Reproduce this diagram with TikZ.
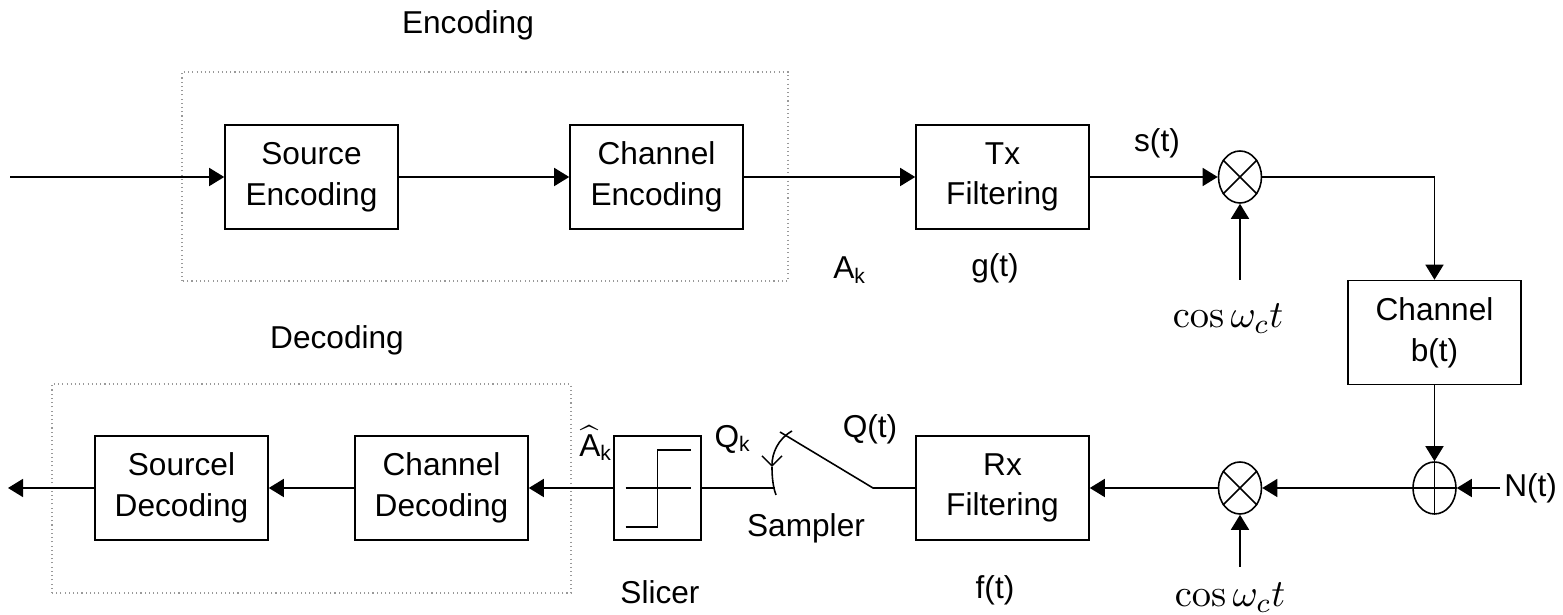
\documentclass[tikz,border=0pt]{standalone}
\usepackage[no-math]{fontspec}
\setmainfont{Liberation Sans}
\usepackage{amsmath}
\usepackage{tikz}
\usetikzlibrary{arrows.meta,shapes.geometric}

\begin{document}
\begin{tikzpicture}[x=1cm,y=1cm,line width=0.45pt,
  font=\fontsize{9pt}{11.6pt}\selectfont,
  blk/.style={draw,minimum width=1.73cm,minimum height=1.04cm,inner sep=0,align=center},
  mix/.style={draw,ellipse,minimum width=0.43cm,minimum height=0.52cm,inner sep=0},
  grp/.style={draw=gray!80,line width=0.3pt,dash pattern=on 0.3pt off 0.9pt},
  sig/.style={-{Triangle[length=1.5mm,width=1.8mm]}},
  osc/.style={font=\fontsize{11pt}{13pt}\selectfont}]
\useasboundingbox (0,0) rectangle (15.63,6.15);
\draw[grp] (1.82,3.34) rectangle (7.88,5.43);
\draw[grp] (0.52,0.22) rectangle (5.71,2.31);
\node[blk] (srcenc) at (3.115,4.38) {Source\\Encoding};
\node[blk] (chenc) at (6.565,4.38) {Channel\\Encoding};
\node[blk] (txf) at (10.025,4.38) {Tx\\Filtering};
\node[mix] (mx1) at (12.40,4.38) {};
\node[blk] (chan) at (14.345,2.825) {Channel\\b(t)};
\node[mix] (add) at (14.345,1.27) {};
\node[mix] (mx2) at (12.40,1.27) {};
\node[blk] (rxf) at (10.025,1.27) {Rx\\Filtering};
\node[blk,minimum width=0.87cm] (slc) at (6.575,1.27) {};
\node[blk] (chdec) at (4.415,1.27) {Channel\\Decoding};
\node[blk] (srcdec) at (1.815,1.27) {Sourcel\\Decoding};
\foreach \m in {mx1,mx2}{ \draw (\m.45)--(\m.225) (\m.135)--(\m.315); }
\draw (add.north)--(add.south) (add.west)--(add.east);
\draw ([xshift=-3.2mm]slc.center) -- ([xshift=3.3mm]slc.center);
\draw ([shift={(-3.2mm,-3.9mm)}]slc.center) -| ([yshift=3.8mm]slc.center) -- ([shift={(3.3mm,3.8mm)}]slc.center);
\node (enclbl) at (4.68,5.90) {Encoding};
\node (declbl) at (3.37,2.75) {Decoding};
\node (ak) at (8.50,3.45) {A\textsubscript{k}};
\node (gt) at (9.95,3.47) {g(t)};
\node (st) at (11.57,4.72) {s(t)};
\node (ft) at (9.95,0.25) {f(t)};
\node (qt) at (8.70,1.86) {Q(t)};
\node (qk) at (7.33,1.76) {Q\textsubscript{k}};
\node[inner sep=0] (ahk) at (5.96,1.72) {$\widehat{\mbox{A}}$\textsubscript{k}};
\node (slclbl) at (6.60,0.23) {Slicer};
\node (smplbl) at (8.06,0.87) {Sampler};
\node[osc] (cos1) at (12.28,2.96) {$\cos\omega_c t$};
\node[osc] (cos2) at (12.30,0.17) {$\cos\omega_c t$};
\node[anchor=west,inner sep=1pt] (nt) at (15.00,1.27) {N(t)};
\coordinate (in) at (0.10,4.38);
\coordinate (out) at (0.08,1.27);
\coordinate (lo1) at (12.40,3.35);
\coordinate (lo2) at (12.40,0.48);
\coordinate (swa) at (8.73,1.27);
\coordinate (swb) at (7.80,1.83);
\coordinate (swc) at (7.75,1.27);
\draw[sig] (in) -- (srcenc);
\draw[sig] (srcenc) -- (chenc);
\draw[sig] (chenc) -- (txf);
\draw[sig] (txf) -- (mx1);
\draw[sig] (mx1) -| (chan);
\draw[sig] (lo1) -- (mx1);
\draw[sig] (chan) -- (add);
\draw[sig] (nt) -- (add);
\draw[sig] (add) -- (mx2);
\draw[sig] (lo2) -- (mx2);
\draw[sig] (mx2) -- (rxf);
\draw (rxf.west) -- (swa) -- (swb);
\draw (swc) -- (slc.east);
\draw[-{Straight Barb[length=1mm]}] (7.92,1.84) .. controls (7.78,1.76) and (7.72,1.62) .. (7.72,1.48);
\draw (7.72,1.48) .. controls (7.72,1.38) and (7.73,1.28) .. (7.76,1.20);
\draw[sig] (slc) -- (chdec);
\draw[sig] (chdec) -- (srcdec);
\draw[sig] (srcdec) -- (out);
\end{tikzpicture}
\end{document}
